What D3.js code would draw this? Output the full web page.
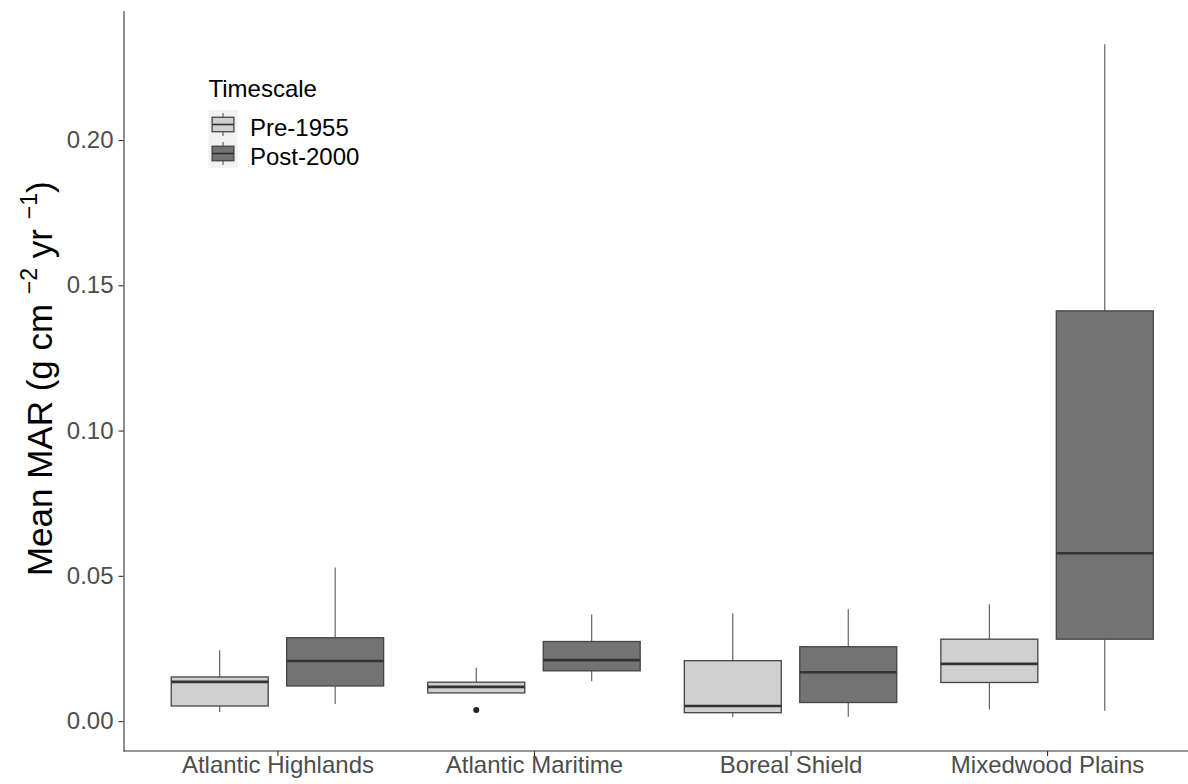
<!DOCTYPE html>
<html lang="en">
<head>
    <meta charset="UTF-8">
    <title>Mean MAR by ecozone</title>
    <style>
        body { margin: 0; background: #fff; }
        svg { display: block; font-family: "Liberation Sans", Arial, sans-serif; }
    </style>
    <script src="https://d3js.org/d3.v7.min.js"></script>
</head>
<body>
    <div id="svg"></div>
    <script>
        // data: [min, q1, median, q3, max]
        const regions = ["Atlantic Highlands", "Atlantic Maritime", "Boreal Shield", "Mixedwood Plains"];
        const timescales = ["Pre-1955", "Post-2000"];
        const preStats = [
            [0.0031, 0.0052, 0.0135, 0.0152, 0.0244],
            [0.0096, 0.0097, 0.0118, 0.0134, 0.0184],
            [0.0013, 0.0029, 0.0052, 0.0208, 0.0371],
            [0.0040, 0.0133, 0.0197, 0.0282, 0.0402]
        ];
        const postStats = [
            [0.0059, 0.0121, 0.0207, 0.0287, 0.0529],
            [0.0137, 0.0173, 0.0210, 0.0274, 0.0367],
            [0.0015, 0.0064, 0.0168, 0.0256, 0.0385],
            [0.0036, 0.0282, 0.0578, 0.1412, 0.2330]
        ];
        const outliers = [{ region: "Atlantic Maritime", timescale: "Pre-1955", value: 0.0038 }];
        const yTicks = [0, 0.05, 0.10, 0.15, 0.20];

        const fills = { "Pre-1955": "#d0d0d0", "Post-2000": "#737373" };

        const boxes = [];
        regions.forEach((r, i) => {
            [preStats, postStats].forEach((s, j) => {
                const [min, q1, med, q3, max] = s[i];
                boxes.push({ region: r, timescale: timescales[j], min, q1, med, q3, max });
            });
        });

        const boxWidth = 1188, boxHeight = 784;
        const marginLeft = 123.5, marginTop = 10.5;
        const innerWidth = 1077.5, innerHeight = 740.5;

        const svg = d3.select("#svg").append("svg")
            .attr("width", boxWidth).attr("height", boxHeight);
        const g = svg.append("g").attr("transform", `translate(${marginLeft}, ${marginTop})`);

        const allVals = boxes.flatMap(d => [d.min, d.max]).concat(outliers.map(d => d.value));
        const lo = d3.min(allVals), hi = d3.max(allVals), pad = (hi - lo) * 0.05;
        const yScale = d3.scaleLinear().domain([lo - pad, hi + pad]).range([innerHeight, 0]);

        // the panel runs a little past the right edge of the picture
        const xScale = d3.scalePoint().domain(regions).range([0, innerWidth]).padding(0.6);
        const step = xScale.step();
        const subScale = d3.scaleBand().domain(timescales)
            .range([-0.45 * step, 0.45 * step]).paddingInner(0.16).paddingOuter(0.08);
        const bw = subScale.bandwidth();
        const cx = d => xScale(d.region) + subScale(d.timescale) + bw / 2;

        // axes
        const yAxis = d3.axisLeft(yScale).tickValues(yTicks).tickFormat(d3.format(".2f"))
            .tickSizeInner(5).tickSizeOuter(0).tickPadding(5);
        const yg = g.append("g").call(yAxis);
        const xAxis = d3.axisBottom(xScale).tickSizeInner(5).tickSizeOuter(0).tickPadding(0);
        const xg = g.append("g").attr("transform", `translate(0, ${innerHeight})`).call(xAxis);
        xg.select(".domain").attr("d", `M0,0H${boxWidth - marginLeft}`);
        [yg, xg].forEach(a => {
            a.select(".domain").attr("stroke", "#333").attr("stroke-width", 1.1);
            a.selectAll(".tick line").attr("stroke", "#333").attr("stroke-width", 1.1);
            a.selectAll(".tick text").attr("fill", "#4d4d4d").attr("font-size", 24)
                .attr("font-family", "Liberation Sans, Arial, sans-serif");
        });
        xg.selectAll(".tick text").attr("dy", "0.71em");

        // boxes
        const bg = g.selectAll(".box").data(boxes).enter().append("g").attr("class", "box");
        bg.append("line")
            .attr("x1", cx).attr("x2", cx)
            .attr("y1", d => yScale(d.max)).attr("y2", d => yScale(d.q3))
            .attr("stroke", "#555").attr("stroke-width", 1.1);
        bg.append("line")
            .attr("x1", cx).attr("x2", cx)
            .attr("y1", d => yScale(d.q1)).attr("y2", d => yScale(d.min))
            .attr("stroke", "#555").attr("stroke-width", 1.1);
        bg.append("rect")
            .attr("x", d => cx(d) - bw / 2).attr("width", bw)
            .attr("y", d => yScale(d.q3)).attr("height", d => yScale(d.q1) - yScale(d.q3))
            .attr("fill", d => fills[d.timescale])
            .attr("stroke", "#444").attr("stroke-width", 1.3);
        bg.append("line")
            .attr("x1", d => cx(d) - bw / 2).attr("x2", d => cx(d) + bw / 2)
            .attr("y1", d => yScale(d.med)).attr("y2", d => yScale(d.med))
            .attr("stroke", "#333").attr("stroke-width", 2.6);

        g.selectAll(".outlier").data(outliers).enter().append("circle")
            .attr("class", "outlier")
            .attr("cx", cx).attr("cy", d => yScale(d.value)).attr("r", 3)
            .attr("fill", "#222");

        // y title, built from separate pieces so the superscripts sit raised
        const titleParts = [
            { t: "Mean MAR (g cm ", size: 35, raise: 0 },
            { t: "\u22122", size: 23, raise: 15 },
            { t: " yr ", size: 35, raise: 0 },
            { t: "\u22121", size: 23, raise: 15 },
            { t: ")", size: 35, raise: 0 }
        ];
        const tg = svg.append("g")
            .attr("transform", `translate(52, ${marginTop + innerHeight / 2 - 2}) rotate(-90)`);
        let offset = 0;
        const pieces = titleParts.map(p => {
            const el = tg.append("text").attr("font-size", p.size).attr("fill", "#000")
                .attr("y", -p.raise).style("white-space", "pre").text(p.t);
            const w = el.node().getComputedTextLength();
            el.attr("x", offset);
            offset += w;
            return el;
        });
        pieces.forEach(el => el.attr("x", +el.attr("x") - offset / 2));

        // legend
        const leg = svg.append("g").attr("transform", "translate(208.5, 110)");
        leg.append("text").attr("x", 0).attr("y", -13).attr("font-size", 24).attr("fill", "#000").text("Timescale");
        const key = 29;
        timescales.forEach((t, i) => {
            const k = leg.append("g").attr("transform", `translate(0, ${i * key})`);
            k.append("rect").attr("width", key).attr("height", key).attr("fill", "#f2f2f2");
            k.append("line").attr("x1", key / 2).attr("x2", key / 2).attr("y1", key * 0.1).attr("y2", key * 0.9)
                .attr("stroke", "#555").attr("stroke-width", 1.1);
            k.append("rect").attr("x", key * 0.125).attr("width", key * 0.75)
                .attr("y", key * 0.25).attr("height", key * 0.5)
                .attr("fill", fills[t]).attr("stroke", "#444").attr("stroke-width", 1.3);
            k.append("line").attr("x1", key * 0.125).attr("x2", key * 0.875).attr("y1", key / 2).attr("y2", key / 2)
                .attr("stroke", "#333").attr("stroke-width", 1.6);
            k.append("text").attr("x", key + 12.5).attr("y", key / 2 + 2.5)
                .attr("dominant-baseline", "central").attr("font-size", 24).attr("fill", "#000").text(t);
        });
    </script>
</body>
</html>
